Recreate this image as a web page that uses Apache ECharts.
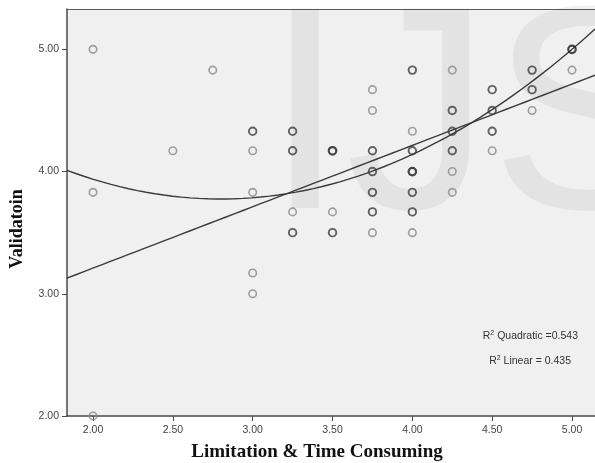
<!DOCTYPE html>
<html>
<head>
<meta charset="utf-8">
<script src="https://cdn.jsdelivr.net/npm/echarts@6/dist/echarts.min.js"></script>
<style>html,body{margin:0;padding:0;background:#fff;}#c{width:595px;height:463px;}</style>
</head>
<body>
<div id="c"></div>
<script>
// ---- data ----
const xValues = [2.00,2.00,2.00, 2.50, 2.75,
  3.00,3.00,3.00,3.00,3.00,
  3.25,3.25,3.25,3.25,
  3.50,3.50,3.50,
  3.75,3.75,3.75,3.75,3.75,3.75,3.75,
  4.00,4.00,4.00,4.00,4.00,4.00,4.00,
  4.25,4.25,4.25,4.25,4.25,4.25,
  4.50,4.50,4.50,4.50,
  4.75,4.75,4.75,
  5.00,5.00];
const yValues = [5.00,3.83,2.00, 4.17, 4.83,
  4.33,4.17,3.83,3.17,3.00,
  4.33,4.17,3.67,3.50,
  4.17,3.67,3.50,
  4.67,4.50,4.17,4.00,3.83,3.67,3.50,
  4.83,4.33,4.17,4.00,3.83,3.67,3.50,
  4.83,4.50,4.33,4.17,4.00,3.83,
  4.67,4.50,4.33,4.17,
  4.83,4.67,4.50,
  5.00,4.83];
// overlapping cases at each point (darker rings)
const counts = [1,1,1, 1, 1,
  2,1,1,1,1,
  2,2,1,2,
  3,1,2,
  1,1,2,2,2,2,1,
  2,1,2,3,2,2,1,
  1,2,2,2,1,1,
  2,2,2,1,
  2,2,1,
  3,1];
const linearFit = [2.206, 0.502];            // intercept, slope
const quadraticFit = [5.759, -1.4168, 0.253]; // c, b, a
const xTickValues = [2.00,2.50,3.00,3.50,4.00,4.50,5.00];
const yTickValues = [2.00,3.00,4.00,5.00];
const xRange = [1.837, 5.144];
const yRange = [2.00, 5.33];
const r2Quadratic = '0.543';
const r2Linear = '0.435';

// ---- build ----
const ringColor = {1:'#888888', 2:'#3c3c3c', 3:'#1a1a1a'};
const ringWidth = {1:1.6, 2:1.9, 3:2.2};
const scatterData = xValues.map((x,i)=>({
  value:[x, yValues[i]],
  itemStyle:{borderColor:ringColor[counts[i]], borderWidth:ringWidth[counts[i]]}
}));
function fitLine(coefs){
  const pts=[]; const n=60;
  for(let i=0;i<=n;i++){
    const x = xRange[0] + (xRange[1]-xRange[0])*i/n;
    let y=0; coefs.forEach((c,k)=>{ y += c*Math.pow(x,k); });
    pts.push([x,y]);
  }
  return pts;
}
const lbl = {fontFamily:'Liberation Sans', fontSize:10.5, color:'#444'};

const chart = echarts.init(document.getElementById('c'), null, {renderer:'canvas'});
chart.setOption({
  animation:false,
  backgroundColor:'#ffffff',
  grid:{left:67, top:9, right:0, bottom:47, show:true, backgroundColor:'#f0f0f0', borderWidth:0},
  xAxis:[
    {type:'value', min:xRange[0], max:xRange[1], position:'bottom',
      axisLine:{show:true, onZero:false, lineStyle:{color:'#4a4a4a', width:1.5}},
      axisTick:{show:true, length:5, customValues:xTickValues, lineStyle:{color:'#4a4a4a', width:1}},
      axisLabel:Object.assign({customValues:xTickValues, formatter:v=>v.toFixed(2), margin:9}, lbl),
      splitLine:{show:false}},
    {type:'value', min:xRange[0], max:xRange[1], position:'top',
      axisLine:{show:true, onZero:false, lineStyle:{color:'#5a5a5a', width:1.2}},
      axisTick:{show:false}, axisLabel:{show:false}, splitLine:{show:false}}
  ],
  yAxis:{type:'value', min:yRange[0], max:yRange[1],
    axisLine:{show:true, onZero:false, lineStyle:{color:'#4a4a4a', width:1.5}},
    axisTick:{show:true, length:5, customValues:yTickValues, lineStyle:{color:'#4a4a4a', width:1}},
    axisLabel:Object.assign({customValues:yTickValues, formatter:v=>v.toFixed(2), margin:8}, lbl),
    splitLine:{show:false}},
  graphic:[
    {type:'text', z:1, silent:true, style:{x:265, y:-17, text:'IJS', font:'290px "Liberation Sans"', fill:'rgba(0,0,0,0.05)', verticalAlign:'top', align:'left'}},
    {type:'text', z:5, style:{x:17, y:229, text:'Validatoin', font:'bold 18px "Liberation Serif"', fill:'#111', align:'center', verticalAlign:'middle'}, rotation:Math.PI/2, originX:17, originY:229},
    {type:'text', z:5, style:{x:317, y:452, text:'Limitation & Time Consuming', font:'bold 19px "Liberation Serif"', fill:'#111', align:'center', verticalAlign:'middle'}},
    {type:'text', z:5, style:{x:578, y:336, text:'R{s|2} Quadratic =' + r2Quadratic, align:'right', verticalAlign:'middle',
      rich:{s:{fontSize:7, verticalAlign:'top', padding:[0,0,5,0], fontFamily:'Liberation Sans', fill:'#333'}}, font:'10.5px "Liberation Sans"', fill:'#333'}},
    {type:'text', z:5, style:{x:571, y:361, text:'R{s|2} Linear = ' + r2Linear, align:'right', verticalAlign:'middle',
      rich:{s:{fontSize:7, verticalAlign:'top', padding:[0,0,5,0], fontFamily:'Liberation Sans', fill:'#333'}}, font:'10.5px "Liberation Sans"', fill:'#333'}}
  ],
  series:[
    {type:'scatter', data:scatterData, symbol:'circle', symbolSize:7.5, clip:false, z:4,
      itemStyle:{color:'rgba(0,0,0,0)'}},
    {type:'line', data:fitLine(linearFit), showSymbol:false, smooth:false, z:3, lineStyle:{color:'#3a3a3a', width:1.4}},
    {type:'line', data:fitLine(quadraticFit), showSymbol:false, smooth:false, z:3, lineStyle:{color:'#3a3a3a', width:1.4}}
  ]
});
</script>
</body>
</html>
